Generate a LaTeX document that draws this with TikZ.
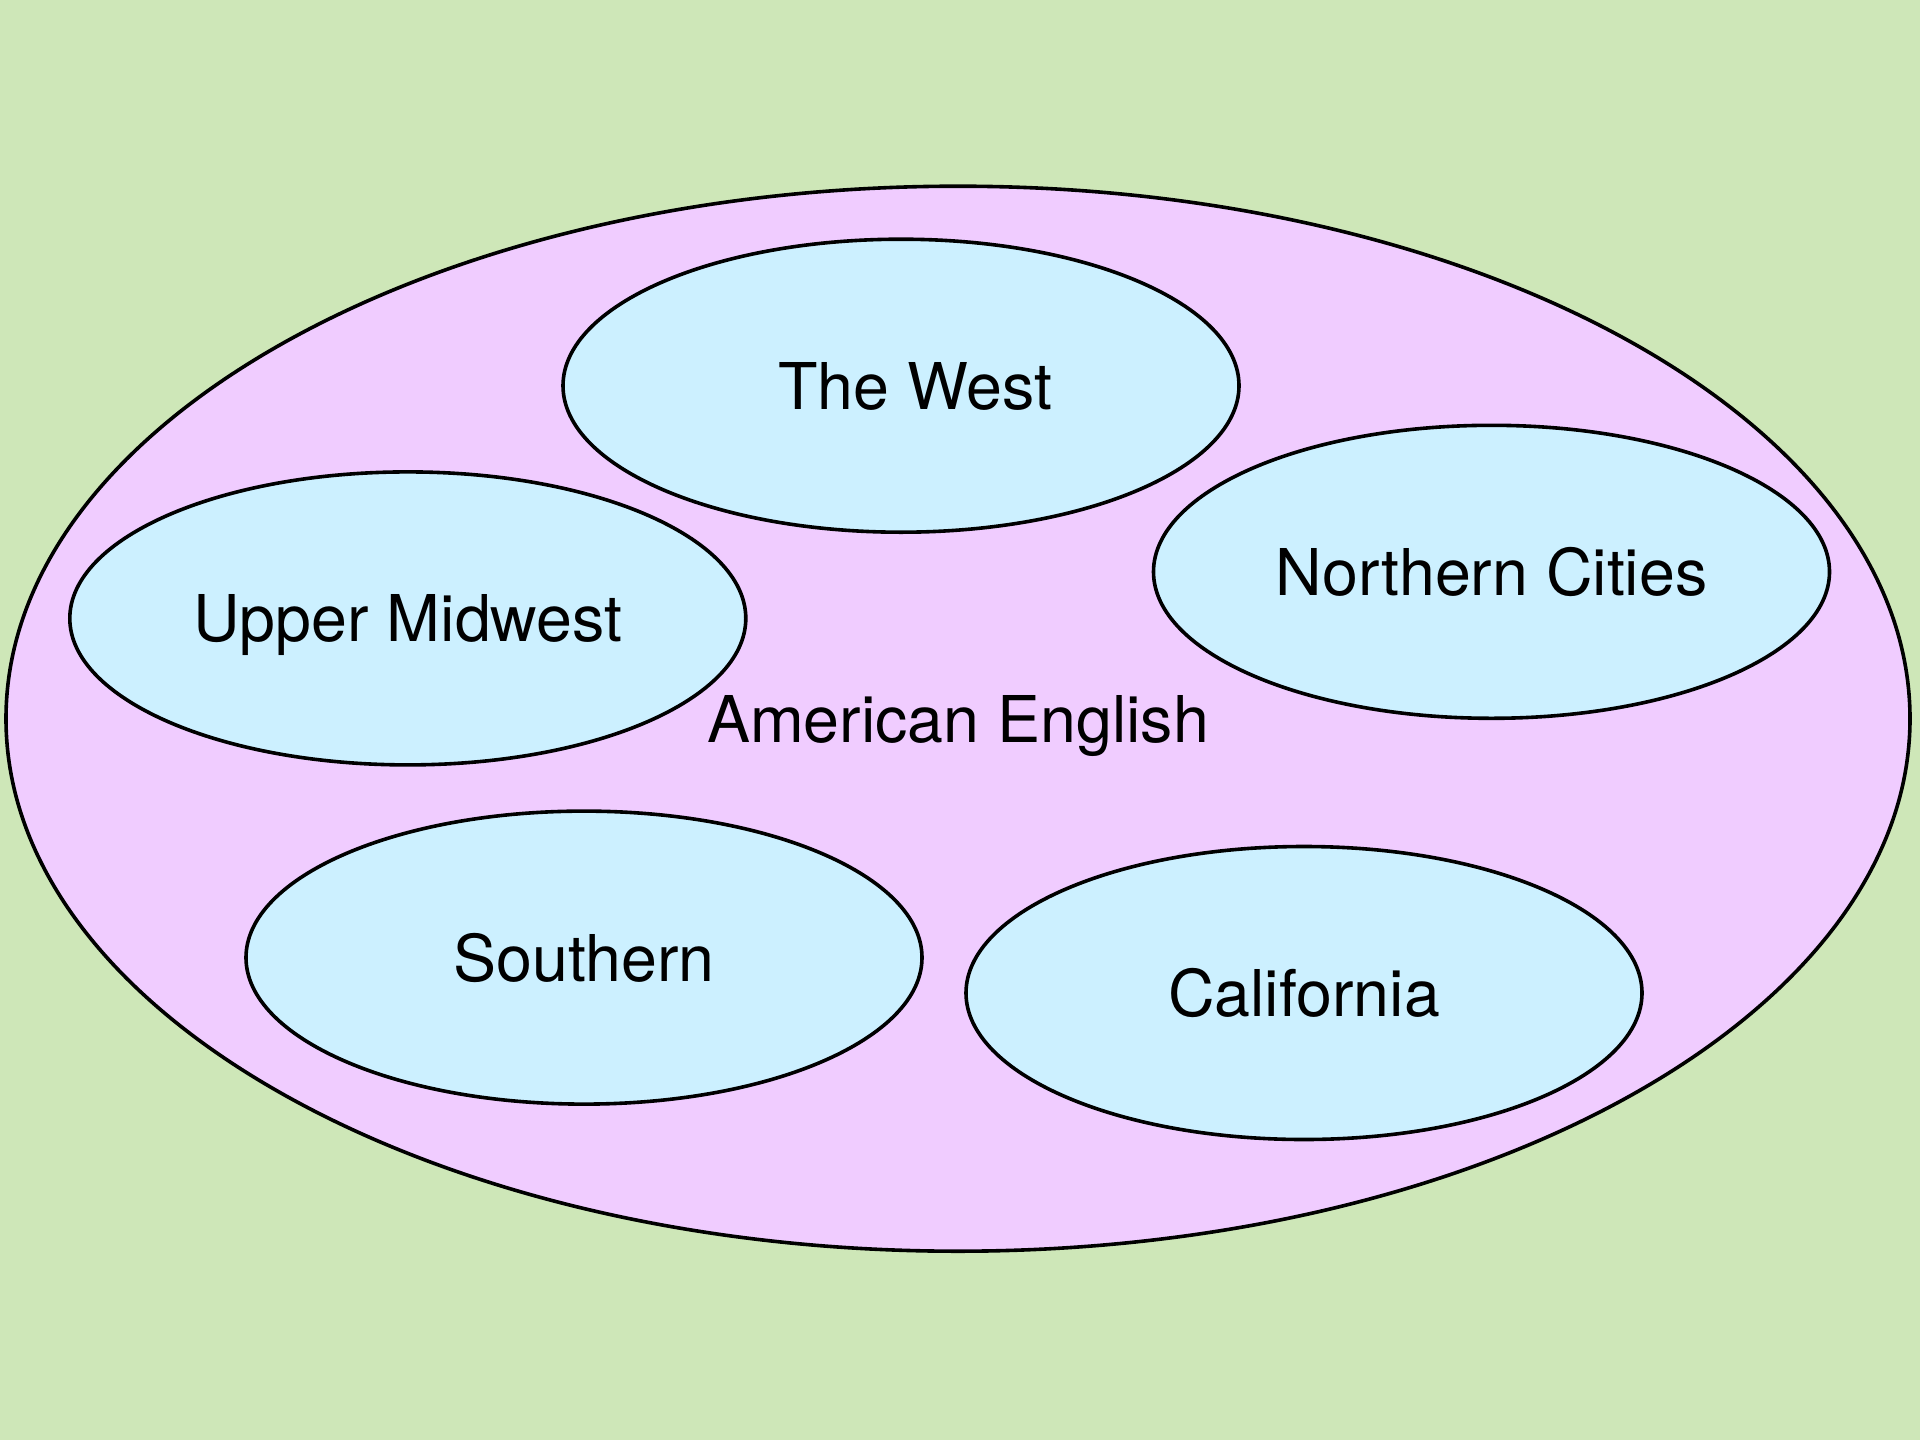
\documentclass[tikz,border=0pt]{standalone}
\usepackage{fontspec}
\setmainfont{TeX Gyre Heros}
\usetikzlibrary{shapes.geometric}
\definecolor{bggreen}{HTML}{CEE7B8}
\definecolor{outerpink}{HTML}{F0CCFF}
\definecolor{innerblue}{HTML}{CCF0FF}
\tikzset{
  labeltext/.style={inner sep=0pt, font=\fontsize{64.5}{78}\selectfont,
    text height=47pt, text depth=0pt},
  region/.style={ellipse, draw=black, line width=3.6pt, labeltext},
  dialect/.style={region, fill=innerblue, minimum width=676pt, minimum height=293pt},
}
\begin{document}
\begin{tikzpicture}[x=1pt, y=-1pt]
  \fill[bggreen] (0,0) rectangle (1920,1440);
  \useasboundingbox (0,0) rectangle (1920,1440);
  \node[region, fill=outerpink, minimum width=1904pt, minimum height=1065pt]
    (american) at (958,718.7) {American English};
  \node[dialect] (west) at (901,385.7) {};
  \node[labeltext] (westlabel) at ([xshift=14pt]west.center) {The West};
  \node[dialect] (midwest) at (407.8,618.4) {Upper Midwest};
  \node[dialect] (northern) at (1491.5,571.8) {Northern Cities};
  \node[dialect] (southern) at (584,957.6) {Southern};
  \node[dialect] (california) at (1304,993) {California};
\end{tikzpicture}
\end{document}
